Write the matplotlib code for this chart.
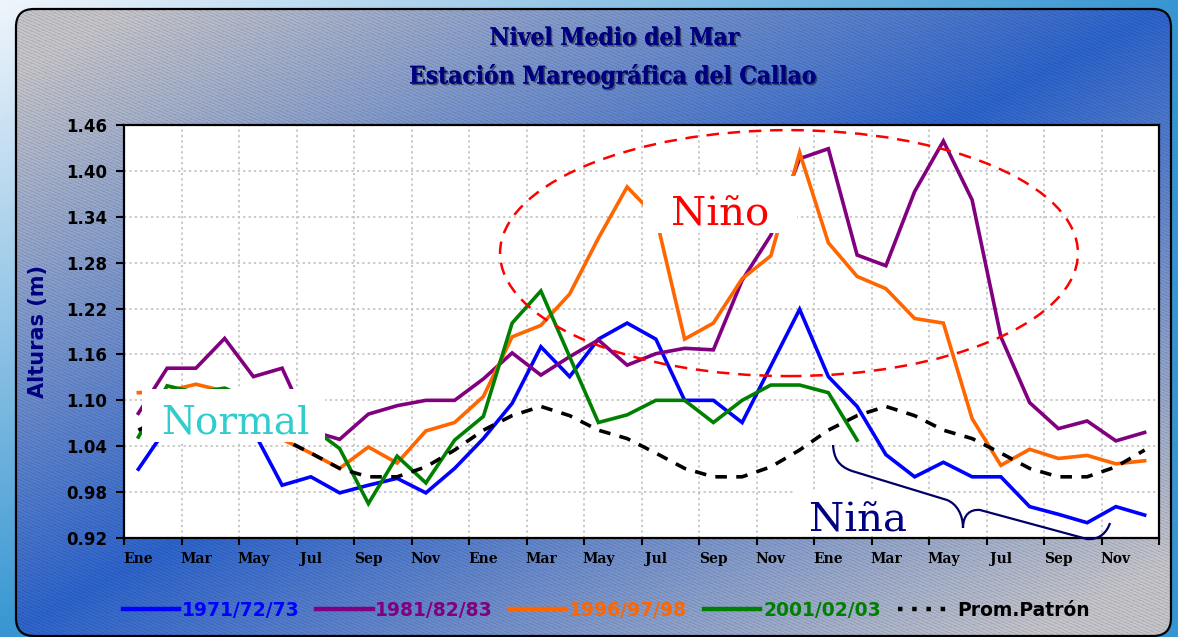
import numpy as np
import matplotlib
matplotlib.use('Agg')
import matplotlib.pyplot as plt
from matplotlib.patches import Ellipse, Rectangle, FancyBboxPatch, PathPatch
from matplotlib.path import Path
from matplotlib.lines import Line2D
import matplotlib.patheffects as pe

# ---------------- data ----------------
months = ['Ene', 'Feb', 'Mar', 'Abr', 'May', 'Jun', 'Jul', 'Ago', 'Sep', 'Oct', 'Nov', 'Dic'] * 3
tick_labels = ['Ene', 'Mar', 'May', 'Jul', 'Sep', 'Nov'] * 3
y_ticks = [0.92, 0.98, 1.04, 1.10, 1.16, 1.22, 1.28, 1.34, 1.40, 1.46]

s_1971 = [1.010, 1.065, 1.090, 1.095, 1.060, 0.989, 1.000, 0.979, 0.989, 0.998, 0.979, 1.011,
          1.050, 1.096, 1.170, 1.131, 1.180, 1.201, 1.180, 1.100, 1.100, 1.071, 1.145, 1.219,
          1.131, 1.092, 1.029, 1.000, 1.019, 1.000, 1.000, 0.961, 0.951, 0.940, 0.961, 0.950]
s_1981 = [1.083, 1.142, 1.142, 1.181, 1.131, 1.142, 1.060, 1.049, 1.082, 1.093, 1.100, 1.100,
          1.128, 1.162, 1.133, 1.157, 1.179, 1.146, 1.161, 1.168, 1.166, 1.257, 1.316, 1.416,
          1.429, 1.290, 1.276, 1.373, 1.439, 1.362, 1.183, 1.097, 1.063, 1.073, 1.047, 1.058]
s_1996 = [1.110, 1.112, 1.121, 1.112, 1.080, 1.049, 1.031, 1.011, 1.039, 1.018, 1.060, 1.071,
          1.105, 1.183, 1.198, 1.239, 1.312, 1.379, 1.340, 1.180, 1.201, 1.259, 1.289, 1.424,
          1.306, 1.262, 1.246, 1.207, 1.201, 1.076, 1.015, 1.036, 1.024, 1.028, 1.017, 1.021]
s_2001 = [1.052, 1.119, 1.110, 1.116, 1.100, 1.080, 1.065, 1.037, 0.965, 1.027, 0.992, 1.048,
          1.079, 1.201, 1.243, 1.157, 1.071, 1.081, 1.100, 1.100, 1.071, 1.100, 1.120, 1.120,
          1.110, 1.048] + [np.nan] * 10
s_prom = [1.061, 1.080, 1.092, 1.080, 1.061, 1.050, 1.031, 1.011, 1.000, 1.000, 1.013, 1.035,
          1.061, 1.080, 1.092, 1.080, 1.061, 1.050, 1.031, 1.011, 1.000, 1.000, 1.013, 1.035,
          1.061, 1.080, 1.092, 1.080, 1.061, 1.050, 1.031, 1.011, 1.000, 1.000, 1.013, 1.035]

series_names = ['1971/72/73', '1981/82/83', '1996/97/98', '2001/02/03']
series_vals = [s_1971, s_1981, s_1996, s_2001]
series_colors = ['#0000FF', '#800080', '#FF6600', '#008000']

# ---------------- figure ----------------
W, H = 1178, 637
fig = plt.figure(figsize=(W / 100, H / 100), dpi=100)

# background
bg = fig.add_axes([0, 0, 1, 1], zorder=0)
yy, xx = np.mgrid[0:H, 0:W].astype(float)
xn, yn = xx / W, yy / H
u = np.clip(xn + yn, 0, 1)
c_light = np.array([240, 245, 252]) / 255
c_oblue = np.array([55, 150, 210]) / 255
outer = c_light * (1 - u[..., None]) + c_oblue * u[..., None]
t = xn + yn
s = np.clip(1 - np.abs(t - 1) * 1.15, 0, 1)
gray = np.array([196, 196, 202]) / 255
blue = np.array([45, 100, 205]) / 255
panel = gray * (1 - s[..., None]) + blue * s[..., None]
stripe = ((yy - 0.45 * xx) % 3.2) < 1.1
panel = panel * np.where(stripe, 0.9, 1.0)[..., None]
x0, x1, y0, y1, r = 16, 1171, 9, 636, 18
inside = (xx >= x0) & (xx <= x1) & (yy >= y0) & (yy <= y1)
for cx, cy, left, top in [(x0 + r, y0 + r, True, True), (x1 - r, y0 + r, False, True),
                          (x0 + r, y1 - r, True, False), (x1 - r, y1 - r, False, False)]:
    cxm = (xx < cx) if left else (xx > cx)
    cym = (yy < cy) if top else (yy > cy)
    inside &= ~(cxm & cym & (((xx - cx) ** 2 + (yy - cy) ** 2) > r * r))
img = np.where(inside[..., None], panel, outer)
bg.imshow(img, extent=(0, W, H, 0), interpolation='nearest', aspect='auto')
bg.add_patch(FancyBboxPatch((x0, y0), x1 - x0, y1 - y0,
                            boxstyle=f'round,pad=0,rounding_size={r}',
                            fill=False, ec='black', lw=1.6))
bg.set_xlim(0, W)
bg.set_ylim(H, 0)
bg.axis('off')

# main axes
ax = fig.add_axes([124 / W, 1 - 538 / H, (1159 - 124) / W, (538 - 125) / H], zorder=2)
ax.set_facecolor('white')
x = np.arange(len(months))
ax.set_xlim(-0.5, len(months) - 0.5)
ax.set_ylim(y_ticks[0], y_ticks[-1])

for name, vals, col in zip(series_names, series_vals, series_colors):
    ax.plot(x, vals, color=col, lw=2.6, solid_joinstyle='miter', zorder=3)
ax.plot(x, s_prom, color='black', lw=2.6, linestyle=(0, (3.2, 2.6)), zorder=3)

# ellipse highlighting El Niño
ell = Ellipse((22.63, 1.2925), 20.1, 0.3216, fill=False, ec='#FF0000', lw=1.8,
              linestyle=(0, (5, 3.5)), zorder=4)
ax.add_patch(ell)

# ticks
ax.set_yticks(y_ticks)
ax.set_yticklabels([f'{v:.2f}' for v in y_ticks], fontsize=12, fontweight='bold',
                   family='DejaVu Sans')
ax.set_xticks(np.arange(-0.5, len(months), 2))
ax.set_xticklabels([])
ax.set_xticks(np.arange(0, len(months), 2), minor=True)
ax.set_xticklabels(tick_labels, minor=True, fontsize=10, fontweight='bold',
                   family='DejaVu Serif')
ax.tick_params(axis='x', which='minor', length=0, pad=10)
ax.tick_params(axis='x', which='major', length=5, width=1.5, direction='out')
ax.tick_params(axis='y', length=6, width=1.5, direction='out', pad=6)
ax.grid(True, which='major', color='#C4C4C4', linestyle=(0, (1.2, 1.8)), lw=1.3)
ax.set_axisbelow(True)
for sp in ax.spines.values():
    sp.set_linewidth(1.6)
    sp.set_color('black')

# overlay for annotations
ov = fig.add_axes([0, 0, 1, 1], zorder=3)
ov.set_xlim(0, W)
ov.set_ylim(H, 0)
ov.axis('off')
ov.patch.set_alpha(0)

ov.add_patch(Rectangle((142, 389), 183, 53, fc='white', ec='none'))
ov.add_patch(Rectangle((643, 176), 154, 57, fc='white', ec='none'))
ov.add_patch(Rectangle((795, 490), 138, 46, fc='white', ec='none'))

ov.text(235, 434, 'Normal', color='#33CCCC', fontsize=28, family='DejaVu Serif',
        ha='center', va='baseline')
ov.text(720, 225, 'Niño', color='#FF0000', fontsize=29, family='DejaVu Serif',
        ha='center', va='baseline')
ov.text(858, 532, 'Niña', color='#000080', fontsize=29, family='DejaVu Serif',
        ha='center', va='baseline')

brace_verts = [(833, 445), (834, 458), (838, 466), (852, 471),
               (947, 500),
               (957, 504), (963, 515), (963, 528),
               (963, 515), (970, 509), (980, 510),
               (1087, 539),
               (1100, 540), (1107, 532), (1110, 523)]
brace_codes = [Path.MOVETO, Path.CURVE4, Path.CURVE4, Path.CURVE4,
               Path.LINETO,
               Path.CURVE4, Path.CURVE4, Path.CURVE4,
               Path.CURVE4, Path.CURVE4, Path.CURVE4,
               Path.LINETO,
               Path.CURVE4, Path.CURVE4, Path.CURVE4]
ov.add_patch(PathPatch(Path(brace_verts, brace_codes), fill=False, ec='#000066', lw=1.6))

# titles
shadow = [pe.withSimplePatchShadow(offset=(1.2, -1.2), shadow_rgbFace='black', alpha=0.45), pe.Normal()]
fig.text(614 / W, 1 - 38 / H, 'Nivel Medio del Mar', ha='center', va='center',
         fontsize=17.5, fontweight='bold', family='DejaVu Serif', fontstretch='condensed',
         color='#000080', path_effects=shadow)
fig.text(612 / W, 1 - 76 / H, 'Estación Mareográfica del Callao', ha='center', va='center',
         fontsize=17.5, fontweight='bold', family='DejaVu Serif', fontstretch='condensed',
         color='#000080', path_effects=shadow)
fig.text(38 / W, 1 - 331 / H, 'Alturas (m)', rotation=90, ha='center', va='center',
         fontsize=15, fontweight='bold', family='DejaVu Sans', color='#000080')

# legend
handles = [Line2D([], [], color=c, lw=3.2) for c in series_colors]
handles.append(Line2D([], [], color='black', lw=3.2, linestyle=(0, (1.0, 2.2))))
labels = series_names + ['Prom.Patrón']
leg = fig.legend(handles, labels, loc='center', bbox_to_anchor=(606 / W, 1 - 610 / H),
                 ncol=5, frameon=False, handlelength=3.0, handletextpad=0.15,
                 columnspacing=0.9,
                 labelcolor=series_colors + ['black'],
                 prop={'family': 'DejaVu Sans', 'weight': 'bold', 'size': 13.5})
leg.set_zorder(5)

fig.savefig('out.png', dpi=100)
